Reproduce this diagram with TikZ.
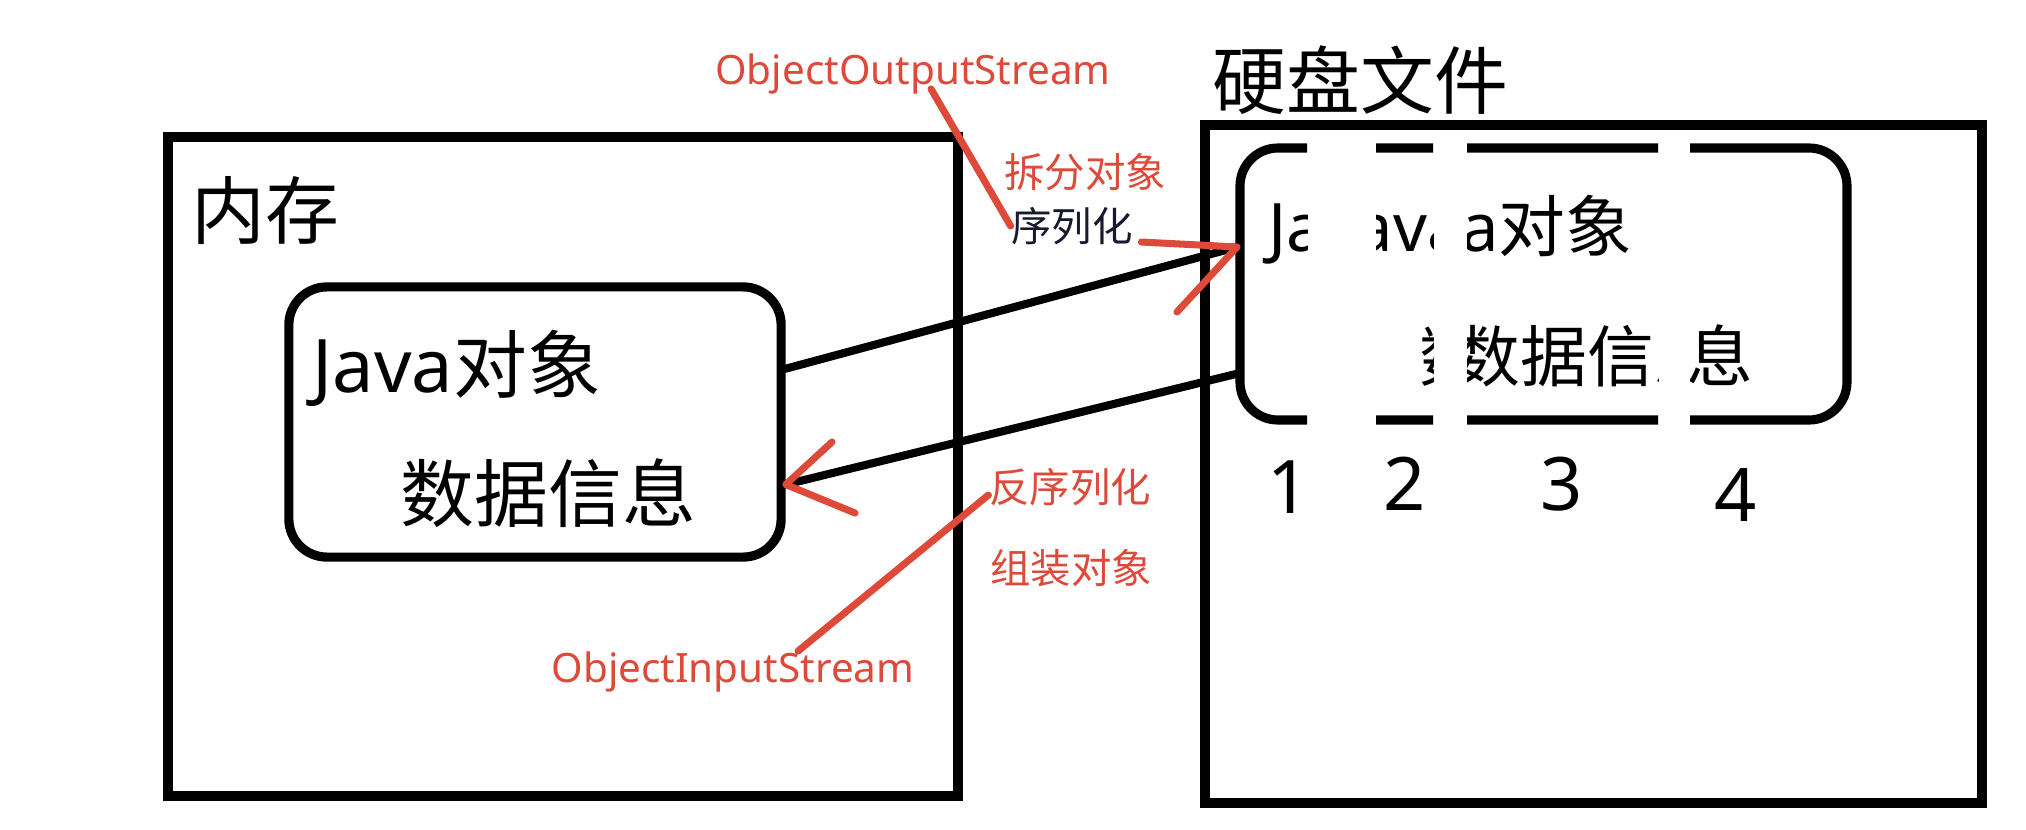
\documentclass[tikz,border=0pt]{standalone}
\usepackage{fontspec}
\setmainfont{Noto Sans CJK SC}
\newfontfamily\lat{Noto Sans}
\definecolor{penred}{RGB}{222,74,58}
\definecolor{ink}{RGB}{25,25,45}
\begin{document}
\begin{tikzpicture}[x=0.01cm,y=-0.01cm,
  frame/.style={line width=3pt},
  objbox/.style={line width=2.6pt,rounded corners=3.8mm},
  big/.style={font=\fontsize{21}{25}\selectfont,inner sep=0pt},
  disktext/.style={font=\fontsize{19}{23}\selectfont,inner sep=0pt},
  num/.style={font=\lat\fontsize{21}{25}\selectfont,inner sep=0pt},
  small/.style={font=\fontsize{11.5}{14}\selectfont,inner sep=0pt},
  redlbl/.style={small,text=penred},
  pen/.style={line width=2.3pt,line cap=round},
  redpen/.style={penred,line width=2pt,line cap=round,line join=round}]
\useasboundingbox (0,0) rectangle (2026,830);
\draw[frame] (168,137) rectangle (958,796);
\node (mem) [big,anchor=base west] at (191,238) {内存};
\node (memobj) [draw,objbox,minimum width=4.92cm,minimum height=2.7cm] at (535,422) {};
\node (memjava) [big,anchor=base west] at (312,392) {{\lat Java}对象};
\node (memdata) [big,anchor=base west] at (400,521) {数据信息};
\draw[frame] (1205,125) rectangle (1982,803);
\node (disk) [big,anchor=base west] at (1212,108) {硬盘文件};
\foreach \s/\l/\r/\d in {1/1200/1307/0,2/1307/1364/69,3/1364/1555/103,4/1555/1760/135}{
  \begin{scope}[shift={(\d,0)}]
    \clip (\l,120) rectangle (\r,450);
    \draw[objbox] (1240,148) rectangle (1712,420);
    \node (dj\s) [disktext,anchor=base west] at (1268,251) {{\lat Java}对象};
    \node (dd\s) [disktext,anchor=base west] at (1350,381) {数据信息};
  \end{scope}
}
\node (n1) [num] at (1289,487) {1};
\node (n2) [num] at (1405,484) {2};
\node (n3) [num] at (1562,484) {3};
\node (n4) [num] at (1736,495) {4};
\node (oos) [redlbl,font=\lat\fontsize{11.5}{14}\selectfont] at (913,74) {ObjectOutputStream};
\node (split) [redlbl] at (1085,172) {拆分对象};
\node (ser) [small,text=ink] at (1072,226) {序列化};
\node (deser) [redlbl] at (1070,487) {反序列化};
\node (asm) [redlbl] at (1071,568) {组装对象};
\node (ois) [redlbl,font=\lat\fontsize{11.5}{14}\selectfont] at (733,672) {ObjectInputStream};
\coordinate (diskin) at (1237,247);
\coordinate (diskout) at (1240,373);
\coordinate (barb1) at (1177,312);
\coordinate (barb2) at (832,442);
\coordinate (barb3) at (855,513);
\draw[pen] (memobj.12) -- (diskin);
\draw[pen] (diskout) -- (memobj.-14);
\draw[redpen] ([xshift=1.8mm,yshift=0.6mm]oos.south) -- (ser.west);
\draw[redpen] ([xshift=0.8mm,yshift=-1.6mm]ser.east) -- (diskin) -- (barb1);
\draw[redpen] (barb2) -- (memobj.-14) -- (barb3);
\draw[redpen] ([yshift=-0.8mm]deser.west) -- ([xshift=6.5mm]ois.north);
\end{tikzpicture}
\end{document}
